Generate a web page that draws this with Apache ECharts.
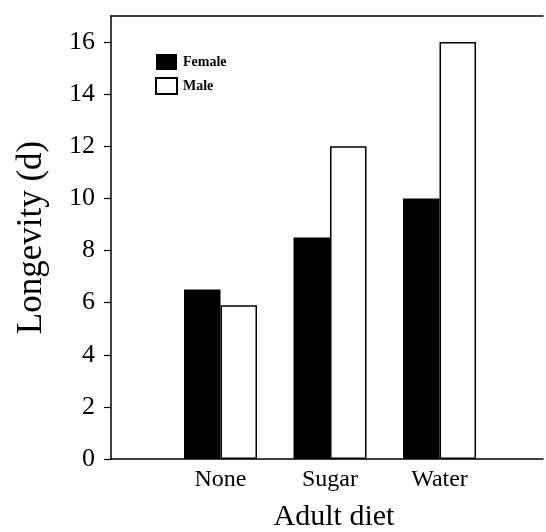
<!DOCTYPE html>
<html>
<head>
<meta charset="utf-8">
<script src="https://cdn.jsdelivr.net/npm/echarts@6/dist/echarts.min.js"></script>
<style>
  html, body { margin: 0; padding: 0; background: #fff; }
  #chart { width: 546px; height: 532px; }
</style>
</head>
<body>
<div id="chart"></div>
<script>
// Adult diet groups and mean longevity (days) by sex
const diets = ['None', 'Sugar', 'Water'];
const dietPositions = [1, 2, 3];
const female = [6.5, 8.5, 10];
const male = [5.9, 12, 16];
const yTicks = [0, 2, 4, 6, 8, 10, 12, 14, 16];

const serif = '"Liberation Serif", "DejaVu Serif", serif';

const chart = echarts.init(document.getElementById('chart'), null, { renderer: 'canvas' });

const pairs = (vals) => vals.map((v, i) => [dietPositions[i], v]);

chart.setOption({
  animation: false,
  backgroundColor: '#ffffff',
  grid: { left: 111, right: 3, top: 16, bottom: 73, containLabel: false, outerBoundsMode: 'none' },
  legend: {
    orient: 'vertical',
    left: 150,
    top: 49,
    itemWidth: 21,
    itemHeight: 16,
    itemGap: 7,
    icon: 'rect',
    textStyle: { fontFamily: serif, fontSize: 14, fontWeight: 'bold', color: '#000', padding: [0, 0, 0, 1] },
    data: ['Female', 'Male']
  },
  xAxis: [
    {
      type: 'value',
      min: 0,
      max: 3.945,
      name: 'Adult diet',
      nameLocation: 'middle',
      nameGap: 43,
      nameTextStyle: { fontFamily: serif, fontSize: 30, color: '#000', padding: [0, 0, 0, 14] },
      axisLine: { show: true, lineStyle: { color: '#000', width: 1.5 } },
      axisTick: { show: false },
      splitLine: { show: false },
      axisLabel: {
        customValues: dietPositions,
        formatter: (v) => diets[dietPositions.indexOf(v)] || '',
        fontFamily: serif, fontSize: 24, color: '#000', margin: 9
      }
    },
    {
      type: 'value',
      position: 'top',
      min: 0,
      max: 3.945,
      axisLine: { show: true, lineStyle: { color: '#000', width: 1.5 } },
      axisTick: { show: false },
      axisLabel: { show: false },
      splitLine: { show: false }
    }
  ],
  yAxis: {
    type: 'value',
    min: 0,
    max: 17,
    interval: 2,
    name: 'Longevity (d)',
    nameLocation: 'middle',
    nameGap: 62,
    nameTextStyle: { fontFamily: serif, fontSize: 35, color: '#000' },
    axisLine: { show: true, lineStyle: { color: '#000', width: 1.5 } },
    axisTick: { show: true, inside: false, length: 7, customValues: yTicks, lineStyle: { color: '#000', width: 1.2 } },
    axisLabel: { customValues: yTicks, fontFamily: serif, fontSize: 26, color: '#000', margin: 16 },
    splitLine: { show: false }
  },
  series: [
    {
      name: 'Female',
      type: 'bar',
      xAxisIndex: 0,
      barWidth: 36.5,
      barGap: '0%',
      itemStyle: { color: '#000', borderColor: '#000', borderWidth: 0 },
      data: pairs(female)
    },
    {
      name: 'Male',
      type: 'bar',
      xAxisIndex: 0,
      barWidth: 36.5,
      barGap: '0%',
      itemStyle: { color: '#fff', borderColor: '#000', borderWidth: 1.5 },
      data: pairs(male)
    }
  ]
});
</script>
</body>
</html>
